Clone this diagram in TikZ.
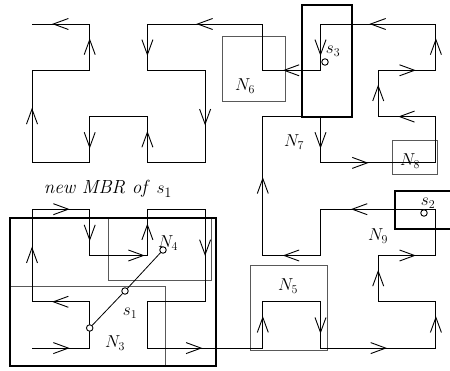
\documentclass[tikz,border=0pt]{standalone}
\usepackage{fontspec}
\usetikzlibrary{decorations.markings}

\tikzset{
  curve/.style={line width=0.9pt},
  arr/.style={postaction={decorate},decoration={markings,
    mark=at position #1 with {\draw[line width=0.9pt] (-7.5pt,5.5pt) -- (7.5pt,0pt) -- (-7.5pt,-5.5pt);}}},
  arr/.default=0.5,
  nbox/.style={draw=black!65,line width=0.9pt},
  mbr/.style={draw,line width=2.8pt},
  pt/.style={circle,draw,fill=white,inner sep=0pt,minimum size=6.5pt,line width=0.9pt},
  lab/.style={inner sep=0pt,font=\fontsize{18}{20}\selectfont},
}

\begin{document}
\begin{tikzpicture}[x=1pt,y=-1pt]
  \useasboundingbox (0,0) rectangle (450,371);
  % grid of the curve
  \foreach \i in {0,...,7}
    \foreach \j in {0,...,7}
      \coordinate (g\i\j) at ({32+57.7*\i},{24+46.3*\j});

  % node rectangles
  \draw[nbox] (222,36) rectangle (285,101);
  \draw[nbox] (392,140) rectangle (437,174);
  \draw[nbox] (250,265) rectangle (327,350);
  \draw[nbox] (108,218) rectangle (211,280);
  \draw[nbox] (10,286) rectangle (165,366);

  % the curve
  \draw[curve] (g07) -- (g17) -- (g16) -- (g06) -- (g04) -- (g14) -- (g15) -- (g25)
    -- (g24) -- (g34) -- (g36) -- (g26) -- (g27) -- (g47) -- (g46) -- (g56) -- (g57)
    -- (g77) -- (g76) -- (g66) -- (g65) -- (g75) -- (g74) -- (g54) -- (g55) -- (g45)
    -- (g42) -- (g52) -- (g53) -- (g73) -- (g72) -- (g62) -- (g61) -- (g71) -- (g70)
    -- (g50) -- (g51) -- (g41) -- (g40) -- (g20) -- (g21) -- (g31) -- (g33) -- (g23)
    -- (g22) -- (g12) -- (g13) -- (g03) -- (g01) -- (g11) -- (g10) -- (g00);
  \foreach \a/\b/\p in {g07/g17/0.5, g16/g06/0.5, g06/g04/0.5, g04/g14/0.5,
      g14/g15/0.5, g15/g25/0.8, g25/g24/0.5, g34/g36/0.41, g27/g47/0.4,
      g47/g46/0.5, g56/g57/0.5, g57/g77/0.5, g77/g76/0.5, g66/g65/0.5,
      g65/g75/0.5, g74/g54/0.66, g55/g45/0.5, g45/g42/0.5, g52/g53/0.5,
      g53/g73/0.34, g72/g62/0.5, g62/g61/0.5, g61/g71/0.5, g71/g70/0.5,
      g70/g50/0.5, g50/g51/0.5, g51/g41/0.5, g40/g20/0.5, g20/g21/0.5,
      g31/g33/0.5, g23/g22/0.5, g12/g13/0.5, g03/g01/0.5, g11/g10/0.5,
      g10/g00/0.5}
    \path[arr=\p] (\a) -- (\b);

  % query rectangles
  \draw[mbr] (302,5) rectangle (352,117);
  \draw[mbr] (395,191) rectangle (453,229);
  \draw[mbr] (10,218) rectangle (216,366);

  % objects
  \node[pt] (s1a) at (89.7,328) {};
  \node[pt] (s1b) at (125,291) {};
  \node[pt] (s1c) at (163,250) {};
  \draw[line width=0.8pt] (s1a) -- (s1b) (s1b) -- (s1c);
  \node[pt] (s3p) at (325,62) {};
  \node[pt] (s2p) at (424,213) {};

  % labels
  \node[lab] (mbrlab) at (108,189) {\fontsize{19}{22}\selectfont\itshape new MBR of\/ $s_1$};
  \node[lab] (l1) at (130,313) {$s_1$};
  \node[lab] (l2) at (428,203) {$s_2$};
  \node[lab] (l3) at (333,51) {$s_3$};
  \node[lab] (n3) at (115,343) {$N_3$};
  \node[lab] (n4) at (168,243) {$N_4$};
  \node[lab] (n5) at (288,286) {$N_5$};
  \node[lab] (n6) at (245,86) {$N_6$};
  \node[lab] (n7) at (294,142) {$N_7$};
  \node[lab] (n8) at (410,161) {$N_8$};
  \node[lab] (n9) at (378,236) {$N_9$};
\end{tikzpicture}
\end{document}
